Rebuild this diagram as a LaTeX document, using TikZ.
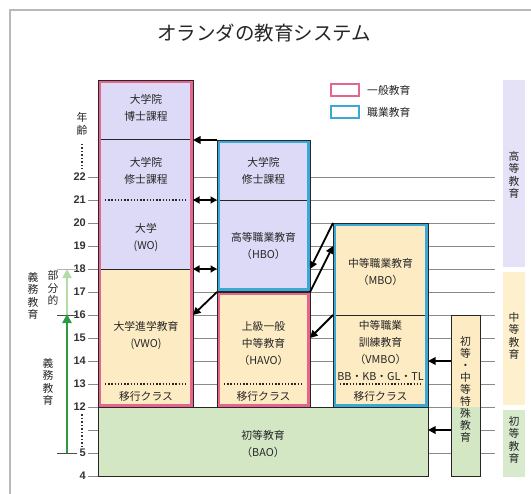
\documentclass[tikz,border=0pt]{standalone}
\usepackage{fontspec}
\setmainfont{Noto Sans CJK JP}
\newfontfamily\numfont{Liberation Sans}
\usetikzlibrary{arrows.meta}
\definecolor{lav}{HTML}{DCDAF6}
\definecolor{peach}{HTML}{FDEBC3}
\definecolor{grn}{HTML}{D4E7C5}
\definecolor{pinkb}{HTML}{E5658C}
\definecolor{blueb}{HTML}{3AA9D6}
\definecolor{txt}{HTML}{262626}
\definecolor{gridc}{HTML}{8A8A8A}
\definecolor{lavr}{HTML}{E5E2F8}
\definecolor{peachr}{HTML}{FEF0CD}
\definecolor{grnr}{HTML}{D7EACB}
\definecolor{ltgreen}{HTML}{B4DCA6}
\definecolor{dkgreen}{HTML}{2F9A45}
\newcommand\myframe[2]{%
  \draw[#2, line width=2.6bp] ([shift={(1.5,1.5)}]#1.north west) rectangle ([shift={(-1.5,-1.5)}]#1.south east);
  \draw[black!85, line width=.9bp] (#1.north west) rectangle (#1.south east);}
\begin{document}
\begin{tikzpicture}[x=1bp,y=-1bp,
  bx/.style={inner sep=0pt, outer sep=0pt, draw=none},
  lbl/.style={font=\fontsize{10.8bp}{17bp}\selectfont, text=txt, align=center, inner sep=0pt},
  vlbl/.style={font=\fontsize{10.8bp}{12.5bp}\selectfont, text=txt, align=center, inner sep=0pt},
  num/.style={font=\numfont\bfseries\fontsize{11bp}{13bp}\selectfont, text=black!80, inner sep=0pt},
  dotline/.style={black!85, line width=1.4bp, dash pattern=on 1.4bp off 1.8bp},
  inline/.style={black!85, line width=1bp},
  arr/.style={-{Triangle[length=7.5bp,width=7.5bp]}, line width=1.8bp, black},
  dbl/.style={{Triangle[length=6.5bp,width=7bp]}-{Triangle[length=6.5bp,width=7bp]}, line width=1.8bp, black},
  gline/.style={gridc, line width=.9bp}
]
\useasboundingbox (0,0) rectangle (531,494);
\fill[white] (0,0) rectangle (531,494);
\draw[gray!55, line width=1.2bp] (10,494) -- (10,10) -- (531,10);

\node[font=\fontsize{19.5bp}{22bp}\selectfont, text=txt] (title) at (264,33) {オランダの教育システム};

% legend
\node[bx, draw=pinkb, line width=2.6bp, minimum width=28bp, minimum height=12bp] (lg1) at (345,90) {};
\node[bx, draw=blueb, line width=2.6bp, minimum width=28bp, minimum height=12bp] (lg2) at (345,112) {};
\node[lbl, anchor=west] (lt1) at (367,90) {一般教育};
\node[lbl, anchor=west] (lt2) at (367,112) {職業教育};

% grid
\foreach \k in {0,...,12} \draw[gline] (88,177+23*\k) -- (495,177+23*\k);
\draw[gline] (88,476) -- (98,476);

% age numbers
\foreach \a/\k in {22/0,21/1,20/2,19/3,18/4,17/5,16/6,15/7,14/8,13/9,12/10,5/12,4/13}
  \node[num, anchor=east] (n\a) at (86,177+23*\k) {\a};
\node[vlbl] (age) at (82,124) {年\\齢};
\draw[black!80, line width=1.6bp, dash pattern=on 1.5bp off 2bp] (82,144) -- (82,169);
\draw[black!80, line width=1.6bp, dash pattern=on 1.5bp off 2bp] (82,414) -- (82,446);

% compulsory education arrows
\coordinate (c18) at (67,269);
\coordinate (c16) at (67,315);
\coordinate (c5) at (67,453);
\draw[gray!60, line width=1bp] (57,269) -- (77,269);
\draw[black!70, line width=1bp] (57,315) -- (77,315);
\draw[black!70, line width=1bp] (57,453) -- (77,453);
\draw[ltgreen, line width=2.6bp, -{Triangle[length=9bp,width=9bp]}] (c16) -- (c18);
\draw[dkgreen, line width=2.6bp, -{Triangle[length=9bp,width=9bp]}] (c5) -- ([yshift=1bp]c16);
\node[vlbl] (bubun) at (53,288) {部\\分\\的};
\node[vlbl] (gimu1) at (33,296) {義\\務\\教\\育};
\node[vlbl] (gimu2) at (48,382) {義\\務\\教\\育};

% box nodes
\node[bx, minimum width=330bp, minimum height=69bp] (bao) at (263,441.5) {};
\node[bx, minimum width=95bp, minimum height=327bp] (wo) at (145.5,243.5) {};
\node[bx, minimum width=93bp, minimum height=151bp] (hbo) at (263.5,215.5) {};
\node[bx, minimum width=93bp, minimum height=115bp] (havo) at (263.5,349.5) {};
\node[bx, minimum width=95bp, minimum height=184bp] (mbo) at (380.5,315) {};
\node[bx, minimum width=29bp, minimum height=161bp] (sp) at (465.5,395.5) {};
\node[bx, minimum width=22bp, minimum height=187bp, fill=lavr] (rh) at (514,173.5) {};
\node[bx, minimum width=22bp, minimum height=133bp, fill=peachr] (rm) at (514,338.5) {};
\node[bx, minimum width=22bp, minimum height=67bp, fill=grnr] (rp) at (514,443.5) {};

% BAO
\fill[grn] (bao.north west) rectangle (bao.south east);
\draw[black!85, line width=1bp] (bao.north west) rectangle (bao.south east);
% special
\fill[peach] (sp.north west) rectangle (sp.east |- 0,407);
\fill[grn] (sp.west |- 0,407) rectangle (sp.south east);
\draw[black!85, line width=1bp] (sp.north west) rectangle (sp.south east);
% WO column
\fill[lav] (wo.north west) rectangle (wo.east |- 0,269);
\fill[peach] (wo.west |- 0,269) rectangle (wo.south east);
\draw[inline] (98,140) -- (193,140);
\draw[inline] (98,269) -- (193,269);
\draw[dotline] (105,200) -- (187,200);
\draw[dotline] (105,384) -- (187,384);
\myframe{wo}{pinkb}
% HBO
\fill[lav] (hbo.north west) rectangle (hbo.south east);
\draw[inline] (217,200) -- (310,200);
\myframe{hbo}{blueb}
% HAVO
\fill[peach] (havo.north west) rectangle (havo.south east);
\draw[dotline] (224,384) -- (304,384);
\myframe{havo}{pinkb}
% MBO/VMBO
\fill[peach] (mbo.north west) rectangle (mbo.south east);
\draw[inline] (333,315) -- (428,315);
\draw[dotline] (340,384) -- (422,384);
\myframe{mbo}{blueb}

% texts
\node[lbl] (t1) at (146,108) {大学院\\博士課程};
\node[lbl] (t2) at (146,171) {大学院\\修士課程};
\node[lbl] (t3) at (146,237) {大学\\(WO)};
\node[lbl] (t4) at (146,335) {大学進学教育\\(VWO)};
\node[lbl] (t5) at (146,396) {移行クラス};
\node[lbl] (t6) at (263.5,171) {大学院\\修士課程};
\node[lbl] (t7) at (263.5,246) {高等職業教育\\（HBO）};
\node[lbl] (t8) at (263.5,343) {上級一般\\中等教育\\（HAVO）};
\node[lbl] (t9) at (263.5,396) {移行クラス};
\node[lbl] (t10) at (380.5,272) {中等職業教育\\（MBO）};
\node[lbl] (t11) at (380.5,351) {中等職業\\訓練教育\\（VMBO）\\BB・KB・GL・TL};
\node[lbl] (t12) at (380.5,396) {移行クラス};
\node[lbl] (t13) at (263,444) {初等教育\\（BAO）};
\node[vlbl, font=\fontsize{10.8bp}{12bp}\selectfont] (t14) at (465.5,389) {初\\等\\・\\中\\等\\特\\殊\\教\\育};
\node[vlbl] (r1) at (514,175) {高\\等\\教\\育};
\node[vlbl] (r2) at (514,336) {中\\等\\教\\育};
\node[vlbl] (r3) at (514,440) {初\\等\\教\\育};

% arrows
\draw[arr] (hbo.north west) -- (wo.east |- hbo.north);
\draw[dbl] (wo.east |- 0,200) -- (hbo.west |- 0,200);
\draw[dbl] (wo.east |- 0,269) -- (hbo.west |- 0,269);
\draw[arr] (havo.north west) -- (wo.east |- 0,315);
\draw[arr] (mbo.west |- 0,315) -- (havo.east |- 0,338);
\draw[arr] (mbo.north west) -- (hbo.east |- 0,269);
\draw[arr] (havo.north east) -- (mbo.west |- 0,246);
\draw[arr] (sp.west |- 0,361) -- (mbo.east |- 0,361);
\draw[arr] (sp.west |- 0,430) -- (bao.east |- 0,430);
\end{tikzpicture}
\end{document}
